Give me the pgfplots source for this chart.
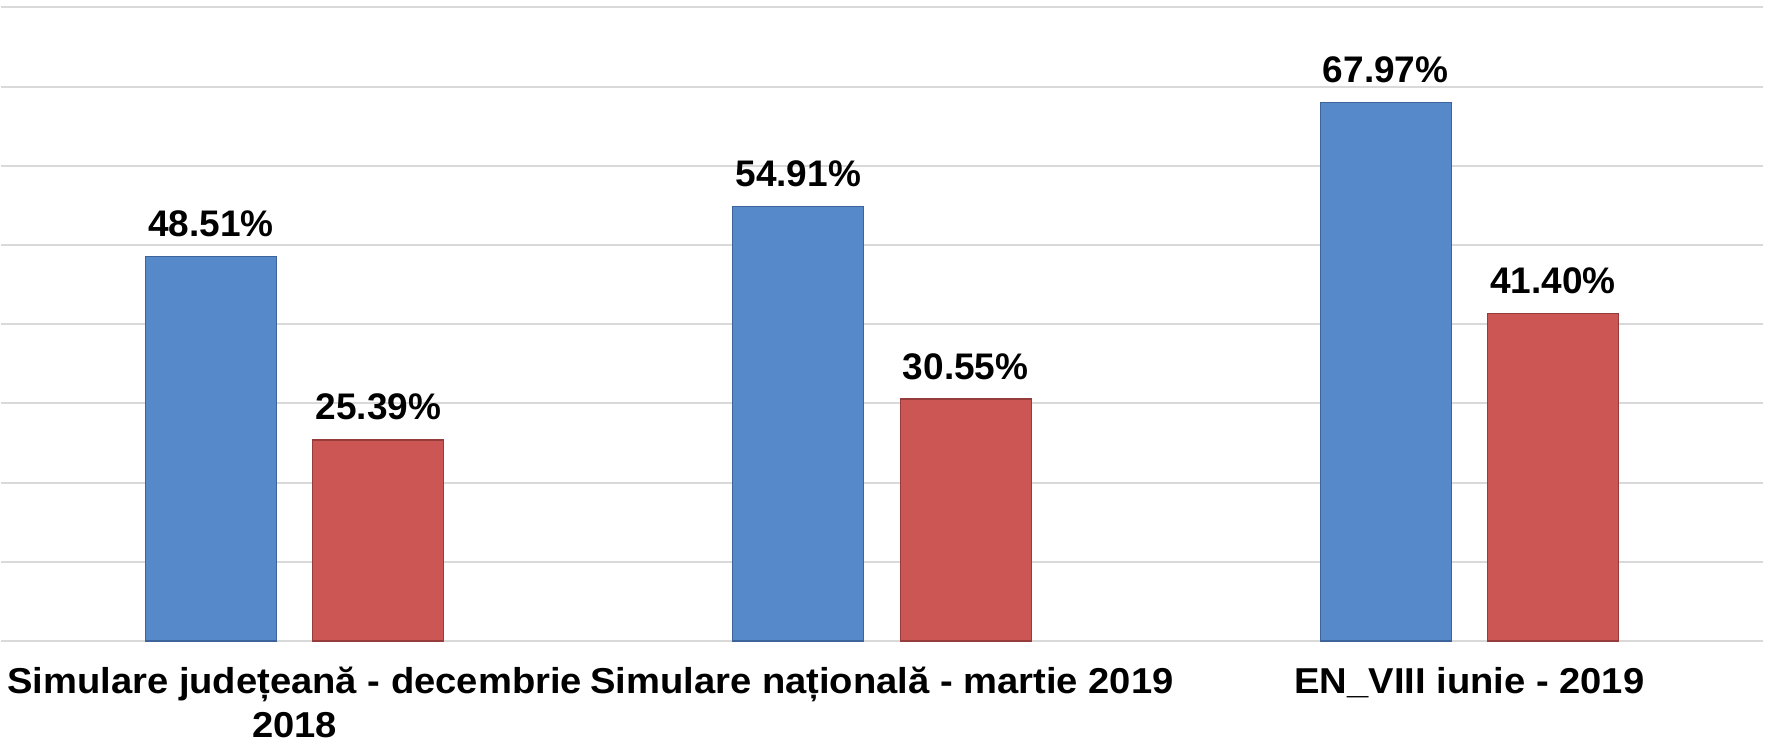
\documentclass[border=0pt]{standalone}
\usepackage{pgfplots}
\pgfplotsset{compat=1.18}
\usepackage{fontspec}
\setmainfont{Liberation Sans}
\definecolor{barblue}{RGB}{85,137,201}
\definecolor{barblueedge}{RGB}{60,100,155}
\definecolor{barred}{RGB}{203,86,84}
\definecolor{barrededge}{RGB}{150,60,58}
\definecolor{gridgray}{RGB}{217,217,217}
\begin{document}
\begin{tikzpicture}
\path[use as bounding box] (-1pt,-103pt) rectangle (1766pt,641pt);
\begin{axis}[
  scale only axis,
  width=1762pt, height=633.5pt,
  xmin=-0.5, xmax=2.5,
  ymin=0, ymax=80,
  ytick={0,10,...,80},
  yticklabels={},
  ymajorgrids,
  grid style={color=gridgray, line width=2pt},
  axis line style={draw=none},
  major tick length=0pt,
  xtick={0,1,2},
  xticklabels={{Simulare județeană - decembrie\\2018},{Simulare națională - martie 2019},{EN\_VIII iunie - 2019}},
  xticklabel style={font=\fontsize{36}{44}\selectfont\bfseries, align=center, anchor=north, inner sep=0pt, yshift=-26pt, xscale=1.06},
  ybar, bar width=0.223,
  point meta=explicit symbolic,
  nodes near coords={\pgfplotspointmeta\%},
  nodes near coords style={font=\fontsize{37}{40}\selectfont\bfseries, anchor=base, inner sep=0pt, yshift=20pt, text=black},
  clip=false,
]
\addplot[fill=barblue, draw=barblueedge, line width=1.2pt, bar shift=-0.1425]
  coordinates {(0,48.51)[48.51] (1,54.91)[54.91] (2,67.97)[67.97]};
\addplot[fill=barred, draw=barrededge, line width=1.2pt, bar shift=0.1425]
  coordinates {(0,25.39)[25.39] (1,30.55)[30.55] (2,41.40)[41.40]};
\end{axis}
\end{tikzpicture}
\end{document}
